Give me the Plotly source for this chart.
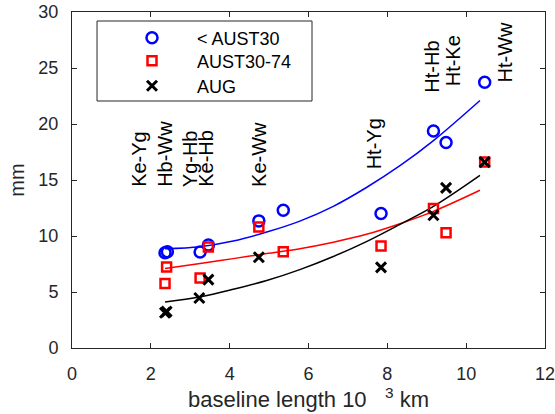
import plotly.graph_objects as go

# --- data ---
x_a30 = [2.36, 2.42, 3.25, 3.46, 4.74, 5.36, 7.84, 9.17, 9.49, 10.47]
y_a30 = [8.5, 8.6, 8.57, 9.2, 11.35, 12.3, 12.0, 19.37, 18.34, 23.72]

x_a3074 = [2.36, 2.40, 3.25, 3.46, 4.74, 5.36, 7.84, 9.17, 9.49, 10.47]
y_a3074 = [5.75, 7.23, 6.25, 9.02, 10.8, 8.6, 9.1, 12.45, 10.3, 16.6]

x_aug = [2.36, 2.40, 3.23, 3.46, 4.74, 7.84, 9.17, 9.49, 10.47]
y_aug = [3.15, 3.25, 4.46, 6.1, 8.1, 7.2, 11.85, 14.3, 16.6]

# fitted curves
fit_x = [2.36, 3.25, 4.09, 4.94, 5.78, 6.63, 7.47, 8.32, 9.17, 10.35]
fit_a30 = [8.87, 9.05, 9.55, 10.35, 11.33, 12.65, 14.33, 16.28, 18.52, 22.1]
fit_a3074 = [7.09, 7.54, 7.98, 8.43, 8.87, 9.45, 10.15, 11.1, 12.2, 14.08]
fit_aug = [4.11, 4.58, 5.25, 6.03, 7.0, 8.17, 9.5, 11.04, 12.65, 15.42]

# baseline labels
lab_text = ["Ke-Yg", "Hb-Ww", "Yg-Hb", "Ke-Hb", "Ke-Ww", "Ht-Yg", "Ht-Hb", "Ht-Ke", "Ht-Ww"]
lab_x = [1.70, 2.36, 2.99, 3.41, 4.76, 7.66, 9.13, 9.66, 10.98]
lab_y = [14.3, 14.3, 14.3, 14.3, 14.3, 15.9, 22.7, 23.3, 23.65]

xticks = [0, 2, 4, 6, 8, 10, 12]
yticks = [0, 5, 10, 15, 20, 25, 30]

AX = "#262626"
FONT = "Liberation Sans, Arial, sans-serif"

fig = go.Figure()

fig.add_trace(go.Scatter(x=fit_x, y=fit_a30, mode="lines", line=dict(color="#0000ff", width=1.5, shape="spline"), showlegend=False, hoverinfo="skip"))
fig.add_trace(go.Scatter(x=fit_x, y=fit_a3074, mode="lines", line=dict(color="#ff0000", width=1.5, shape="spline"), showlegend=False, hoverinfo="skip"))
fig.add_trace(go.Scatter(x=fit_x, y=fit_aug, mode="lines", line=dict(color="#000000", width=1.5, shape="spline"), showlegend=False, hoverinfo="skip"))

fig.add_trace(go.Scatter(x=x_a30, y=y_a30, mode="markers", name="< AUST30", legend="legend",
                         marker=dict(symbol="circle-open", size=11, color="#0000ff", line=dict(width=2.5, color="#0000ff"))))
fig.add_trace(go.Scatter(x=x_a3074, y=y_a3074, mode="markers", name="AUST30-74", legend="legend2",
                         marker=dict(symbol="square-open", size=9, color="#ff0000", line=dict(width=2.5, color="#ff0000"))))
fig.add_trace(go.Scatter(x=x_aug, y=y_aug, mode="markers", name="AUG", legend="legend3",
                         marker=dict(symbol="x-thin", size=10, color="#000000", line=dict(width=3, color="#000000"))))

for t, xx, yy in zip(lab_text, lab_x, lab_y):
    fig.add_annotation(x=xx, y=yy, text=t, textangle=-90, showarrow=False,
                       xanchor="center", yanchor="bottom", borderpad=0,
                       font=dict(family=FONT, size=20, color="#000000"))

# legend frame
fig.add_shape(type="rect", xref="paper", yref="paper",
              x0=0.0529, x1=0.5074, y0=0.7351, y1=0.9732,
              line=dict(color=AX, width=1), fillcolor="white", layer="below")

leg_common = dict(x=0.074, xanchor="left", yanchor="middle", borderwidth=0,
                  bgcolor="rgba(0,0,0,0)", itemwidth=80, tracegroupgap=0,
                  font=dict(family=FONT, size=18, color="#000000"))

nb = "\u00a0"
fig.update_layout(
    width=555, height=414,
    margin=dict(l=72, r=10, t=12, b=66),
    paper_bgcolor="white", plot_bgcolor="white",
    font=dict(family=FONT, size=18, color=AX),
    legend=dict(y=0.9226, **leg_common),
    legend2=dict(y=0.8542, **leg_common),
    legend3=dict(y=0.7798, **leg_common),
    xaxis=dict(range=[0, 12], tickvals=xticks, ticks="inside", ticklen=5, tickcolor=AX,
               showline=True, linecolor=AX, linewidth=1, mirror="ticks",
               showgrid=False, zeroline=False, automargin=False,
               ticklabelstandoff=9, ticklabeloverflow="allow",
               title=dict(text="baseline length 10" + nb * 3 + "<sup>3</sup> km", standoff=2)),
    yaxis=dict(range=[0, 30], tickvals=yticks, ticks="inside", ticklen=5, tickcolor=AX,
               showline=True, linecolor=AX, linewidth=1, mirror="ticks",
               showgrid=False, zeroline=False, automargin=False,
               ticklabelstandoff=9, ticklabeloverflow="allow",
               title=dict(text="mm", standoff=8, font=dict(size=20))),
)

fig.write_html("out.html", config={"displayModeBar": False},
               post_script="document.body.style.margin='0';")
